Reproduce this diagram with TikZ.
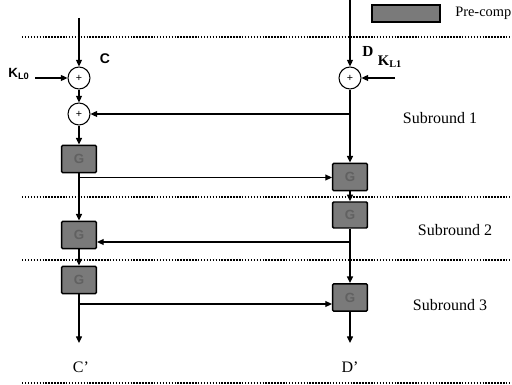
\documentclass[tikz,border=0pt]{standalone}
\usepackage{fontspec}
\setmainfont{Liberation Serif}
\newfontfamily\arialf{Liberation Sans}
\usetikzlibrary{arrows.meta}
\begin{document}
\begin{tikzpicture}[x=0.75pt,y=-0.75pt,
 conn/.style={line width=1pt,-{Triangle[length=5pt,width=4.5pt]}},
 plain/.style={line width=1pt},
 xorn/.style={circle,draw,line width=0.8pt,minimum size=16.5pt,inner sep=0pt,font=\arialf\fontsize{8}{8}\selectfont},
 gbox/.style={draw,line width=1.1pt,fill=black!52,minimum width=26pt,minimum height=20.5pt,inner sep=0pt,rounded corners=0.8pt,text=black!62,font=\arialf\bfseries\fontsize{10}{10}\selectfont},
 sepline/.style={line width=1.4pt,dash pattern=on 1.1pt off 1.1pt},
 lab/.style={font=\fontsize{12}{14}\selectfont},
 sans/.style={font=\arialf\fontsize{10}{12}\selectfont}]
\useasboundingbox (0,0) rectangle (512,385);

% separators
\foreach \yy in {37,197,260,383} \draw[sepline] (22,\yy) -- (512,\yy);

% legend
\node[gbox,minimum width=51pt,minimum height=12.5pt,rounded corners=0pt] (lg) at (406,13.5) {};
\node[lab,font=\fontsize{10.8}{13}\selectfont,anchor=west,inner sep=0pt] (lgt) at (455,13.5) {Pre-comp};

% xor nodes
\node[xorn] (xa) at (79,78) {+};
\node[xorn] (xb) at (79,114) {+};
\node[xorn] (xc) at (350,78) {+};

% boxes
\node[gbox] (b1) at (79,159) {G};
\node[gbox] (b2) at (79,235) {G};
\node[gbox] (b3) at (79,280) {G};
\node[gbox] (r1) at (350,177) {G};
\node[gbox,minimum height=19.5pt] (r2) at (350,215) {G};
\node[gbox] (r3) at (350,297.5) {G};

% labels
\node[sans,font=\arialf\bfseries\fontsize{10.5}{12}\selectfont] (lc) at (105,59) {C};
\node[lab,font=\bfseries\fontsize{11.5}{13}\selectfont] (ld) at (368,51) {D};
\node[sans,font=\arialf\bfseries\fontsize{10}{11}\selectfont] (kl0) at (19,74) {K\textsubscript{L0}};
\node[lab,font=\bfseries\fontsize{11}{12}\selectfont] (kl1) at (390,62) {K\textsubscript{L1}};
\node[lab] (s1) at (440,118) {Subround 1};
\node[lab] (s2) at (455,230) {Subround 2};
\node[lab] (s3) at (450,305) {Subround 3};
\node[lab] (cp) at (81,367) {C'};
\node[lab] (dp) at (350,367) {D'};

% coordinates
\coordinate (tl) at (79,18);
\coordinate (tr) at (350,0);
\coordinate (k0s) at (35,78);
\coordinate (k1s) at (395,78);
\coordinate (j1) at (350,114);
\coordinate (j2) at (79,177.5);
\coordinate (j3) at (350,242);
\coordinate (j4) at (79,304);
\coordinate (co) at (79,343);
\coordinate (do) at (350,343);

% connectors
\draw[conn] (tl) -- (xa);
\draw[conn] (tr) -- (xc);
\draw[conn] (k0s) -- (xa);
\draw[conn] (k1s) -- (xc);
\draw[conn] (xa) -- (xb);
\draw[conn] (xc) -- (r1);
\draw[conn] (j1) -- (xb);
\draw[conn] (xb) -- (b1);
\draw[conn] (b1) -- (b2);
\draw[conn] (j2) -- (j2 -| r1.west);
\draw[conn] (r1) -- (r2);
\draw[plain] (r2) -- (j3);
\draw[conn] (j3) -- (j3 -| b2.east);
\draw[conn] (j3) -- (r3);
\draw[conn] (b2) -- (b3);
\draw[conn] (b3) -- (co);
\draw[conn] (j4) -- (j4 -| r3.west);
\draw[conn] (r3) -- (do);
\end{tikzpicture}
\end{document}
